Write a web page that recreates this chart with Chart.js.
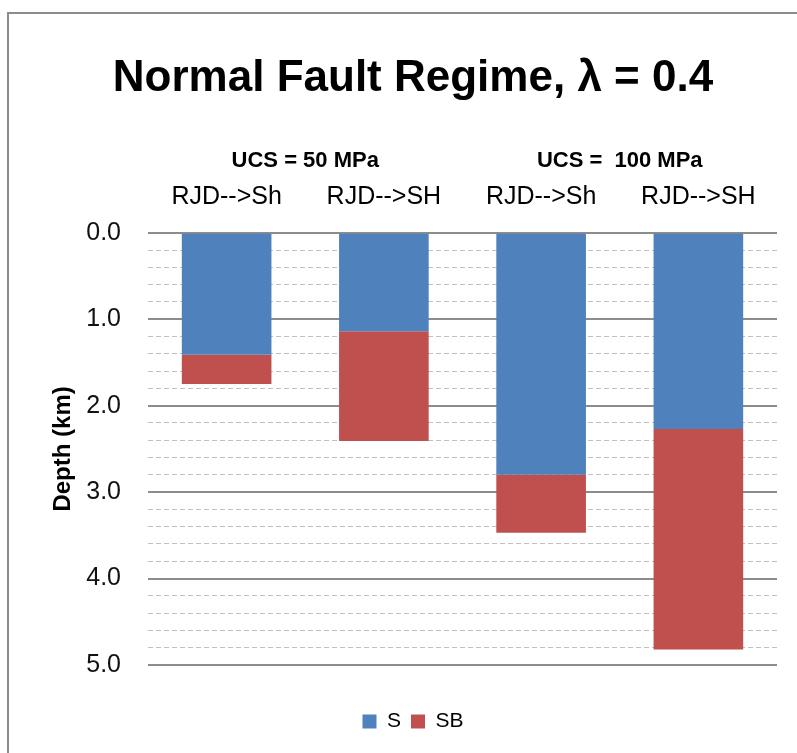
<!DOCTYPE html>
<html lang="en">
<head>
<meta charset="UTF-8">
<title>Normal Fault Regime</title>
<script src="https://cdn.jsdelivr.net/npm/chart.js"></script>
<style>
html, body { margin: 0; padding: 0; background: #fff; overflow: hidden; }
#frame {
  position: absolute; left: 7px; top: 12px;
  width: 830px; height: 740px;
  border-left: 2px solid #8c8c8c;
  border-top: 2px solid #8c8c8c;
}
</style>
</head>
<body>
<div id="frame"><canvas id="depthChart"></canvas></div>

<script>
// categories (bottom row of top labels) and the group labels above them
const categories = ['RJD-->Sh', 'RJD-->SH', 'RJD-->Sh', 'RJD-->SH'];
const groups = ['UCS = 50 MPa', 'UCS =  100 MPa'];

// depth values in km
const sValues = [1.41, 1.14, 2.80, 2.27];
const sbValues = [0.34, 1.27, 0.67, 2.55];

const yTicks = [0, 1, 2, 3, 4, 5];

const FONT = "'Liberation Sans', Arial, sans-serif";
const isMajor = v => Math.abs(v - Math.round(v)) < 1e-6;

const ctx = document.getElementById('depthChart').getContext('2d');
const depthChart = new Chart(ctx, {
  type: 'bar',
  data: {
    labels: categories,
    datasets: [{
      label: 'S',
      data: sValues,
      backgroundColor: '#4F81BD',
      barPercentage: 0.57,
      categoryPercentage: 1.0
    }, {
      label: 'SB',
      data: sbValues,
      backgroundColor: '#C0504D',
      barPercentage: 0.57,
      categoryPercentage: 1.0
    }]
  },
  options: {
    responsive: true,
    maintainAspectRatio: false,
    animation: false,
    layout: { padding: { left: 40, right: 62, top: 0, bottom: 12 } },
    plugins: {
      tooltip: { enabled: false },
      title: {
        display: true,
        text: 'Normal Fault Regime, λ = 0.4',
        color: '#000',
        font: { family: FONT, size: 44, weight: 'bold' },
        padding: { top: 38, bottom: 40 }
      },
      legend: {
        position: 'bottom',
        labels: {
          color: '#000',
          font: { family: FONT, size: 21 },
          boxWidth: 14,
          boxHeight: 14,
          padding: 10
        }
      }
    },
    scales: {
      x: {
        position: 'top',
        stacked: true,
        grid: { display: false },
        border: { display: false },
        ticks: { color: '#000', font: { family: FONT, size: 25 }, padding: 13 },
        afterFit: s => { s.height = 54; }
      },
      x2: {
        type: 'category',
        labels: groups,
        position: 'top',
        offset: true,
        weight: 1,
        grid: { display: false },
        border: { display: false },
        ticks: { color: '#000', font: { family: FONT, size: 22, weight: 'bold' }, padding: -3 },
        afterFit: s => { s.height = 34; }
      },
      pad: {
        type: 'category',
        position: 'bottom',
        display: true,
        grid: { display: false },
        border: { display: false },
        ticks: { display: false },
        afterFit: s => { s.height = 36; }
      },
      y: {
        stacked: true,
        reverse: true,
        min: yTicks[0],
        max: yTicks[yTicks.length - 1],
        title: {
          display: true,
          text: 'Depth (km)',
          color: '#000',
          font: { family: FONT, size: 24, weight: 'bold' },
          padding: { top: 0, bottom: 0 }
        },
        ticks: {
          stepSize: 0.2,
          autoSkip: false,
          color: '#111',
          font: { family: FONT, size: 25 },
          padding: 27,
          callback: v => (isMajor(v) && yTicks.includes(Math.round(v))) ? Math.round(v).toFixed(1) : ''
        },
        grid: {
          drawTicks: false,
          color: c => (c.tick && isMajor(c.tick.value)) ? '#8c8c8c' : '#c0c0c0',
          lineWidth: c => (c.tick && isMajor(c.tick.value)) ? 2 : 1
        },
        border: {
          display: false,
          dash: c => (c.tick && !isMajor(c.tick.value)) ? [5, 3] : []
        },
        afterFit: s => { s.width = 99; }
      }
    }
  }
});
</script>
</body>
</html>
